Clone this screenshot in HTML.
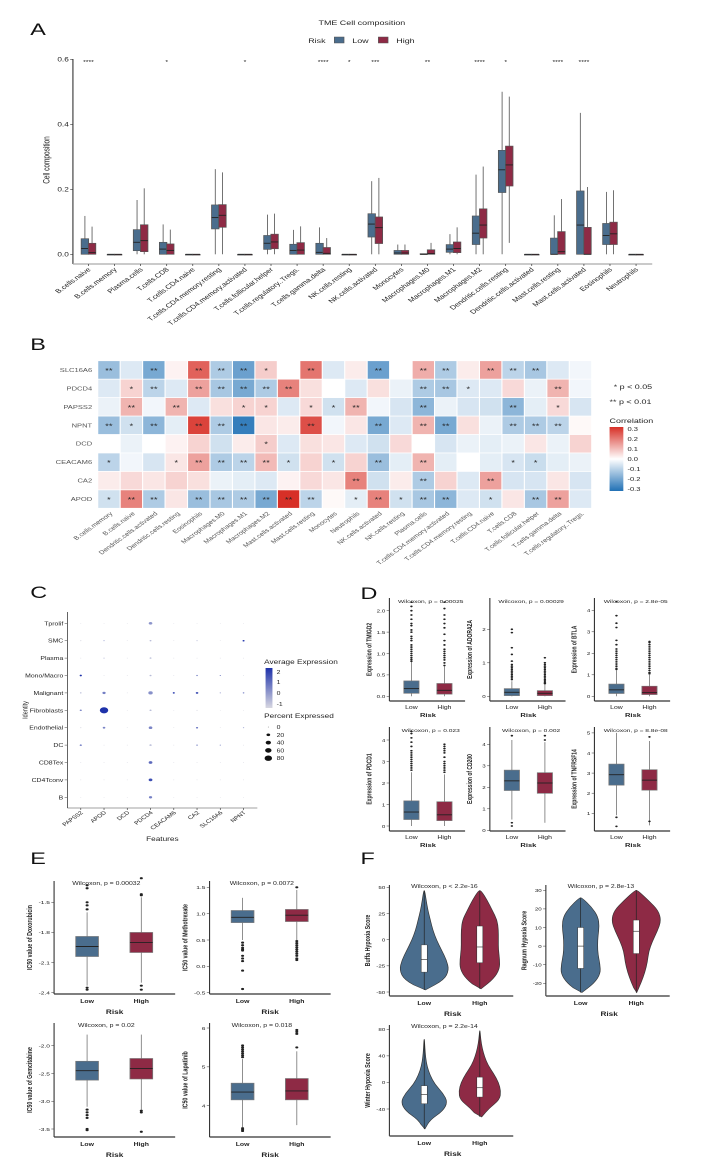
<!DOCTYPE html>
<html><head><meta charset="utf-8"><style>
html,body{margin:0;padding:0;background:#fff}
svg{display:block;font-family:"Liberation Sans",Arial,sans-serif}
</style></head><body>
<svg id="fig" width="709" height="1169" viewBox="0 0 709 1169"><g id="root" transform="scale(1.376,1)"></g></svg>
<script>
// ---------- Panel A data ----------
const aCats=["B.cells.naive","B.cells.memory","Plasma.cells","T.cells.CD8","T.cells.CD4.naive","T.cells.CD4.memory.resting","T.cells.CD4.memory.activated","T.cells.follicular.helper","T.cells.regulatory..Tregs.","T.cells.gamma.delta","NK.cells.resting","NK.cells.activated","Monocytes","Macrophages.M0","Macrophages.M1","Macrophages.M2","Dendritic.cells.resting","Dendritic.cells.activated","Mast.cells.resting","Mast.cells.activated","Eosinophils","Neutrophils"];
// [q1, median, q3, whiskerLow, whiskerHigh]
const aLow=[[0,0.018,0.048,0,0.118],[0,0,0,0,0],[0.011,0.037,0.076,0,0.167],[0,0.016,0.037,0,0.092],[0,0,0,0,0],[0.078,0.113,0.152,0,0.262],[0,0,0,0,0],[0.015,0.034,0.058,0,0.122],[0,0.012,0.031,0,0.075],[0,0.006,0.034,0,0.083],[0,0,0,0,0],[0.053,0.093,0.125,0,0.225],[0,0.004,0.012,0,0.03],[0,0,0.002,0,0.002],[0.006,0.016,0.03,0,0.062],[0.03,0.065,0.118,0,0.245],[0.19,0.26,0.32,0,0.5],[0,0,0,0,0],[0,0,0.05,0,0.12],[0,0.09,0.195,0,0.435],[0.03,0.058,0.095,0,0.192],[0,0,0,0,0]];
const aHigh=[[0,0.005,0.034,0,0.085],[0,0,0,0,0],[0.008,0.042,0.091,0,0.203],[0,0.012,0.032,0,0.076],[0,0,0,0,0],[0.083,0.12,0.153,0,0.252],[0,0,0,0,0],[0.017,0.038,0.062,0,0.125],[0,0.013,0.036,0,0.086],[0,0.003,0.021,0,0.05],[0,0,0,0,0],[0.033,0.082,0.115,0,0.235],[0,0.004,0.012,0,0.03],[0,0.002,0.014,0,0.035],[0.005,0.018,0.038,0,0.083],[0.05,0.09,0.14,0,0.27],[0.21,0.275,0.333,0.035,0.485],[0,0,0,0,0],[0,0.008,0.07,0,0.17],[0,0,0.083,0,0.207],[0.03,0.063,0.099,0,0.197],[0,0,0,0,0]];
const aStars=["****","","","*","","","*","","","****","*","***","","**","","****","*","","****","****","",""];
const aTicks=[0,0.2,0.4,0.6];

// ---------- Panel B data ----------
const hmGenes=["SLC16A6","PDCD4","PAPSS2","NPNT","DCD","CEACAM6","CA2","APOD"];
const hmCells=["B.cells.memory","B.cells.naive","Dendritic.cells.activated","Dendritic.cells.resting","Eosinophils","Macrophages.M0","Macrophages.M1","Macrophages.M2","Mast.cells.activated","Mast.cells.resting","Monocytes","Neutrophils","NK.cells.activated","NK.cells.resting","Plasma.cells","T.cells.CD4.memory.activated","T.cells.CD4.memory.resting","T.cells.CD4.naive","T.cells.CD8","T.cells.follicular.helper","T.cells.gamma.delta","T.cells.regulatory..Tregs."];
const hmSLC16A6=[-0.15,-0.05,-0.2,0.02,0.25,-0.12,-0.22,0.08,0,0.22,-0.05,0.03,-0.22,0,0.13,-0.12,0.03,0.15,-0.1,-0.13,-0.05,-0.02];
const hmPDCD4=[-0.05,0.07,-0.1,-0.05,0.15,-0.13,-0.2,-0.12,0.2,0.05,0,-0.05,0.05,-0.03,-0.12,-0.13,-0.05,-0.05,0.06,-0.03,0.12,-0.02];
const hmPAPSS2=[-0.03,0.12,-0.02,0.12,-0.05,0.05,0.07,0.07,-0.05,0.06,-0.07,0.12,-0.02,-0.06,-0.17,-0.03,-0.06,-0.07,-0.17,-0.04,0.06,-0.06];
const hmNPNT=[-0.15,-0.07,-0.17,-0.04,0.3,-0.12,-0.3,0.04,0.03,0.28,-0.02,0.04,-0.2,-0.05,0.12,-0.2,0.05,-0.03,-0.12,-0.12,-0.1,0.01];
const hmDCD=[0,-0.03,0,0.02,0.07,-0.07,0.03,0.08,-0.05,0.05,0.04,-0.05,-0.07,0.06,0,-0.06,-0.03,-0.04,-0.03,0.04,-0.03,0.07];
const hmCEACAM6=[-0.1,-0.02,-0.06,0.04,0.15,-0.12,-0.1,0.11,-0.07,0.07,-0.07,0.07,-0.15,-0.04,0.12,-0.04,0,-0.04,-0.06,-0.08,-0.04,-0.03];
const hmCA2=[0.03,0.06,0.04,0.07,0.05,-0.03,-0.04,-0.05,0.02,0.06,0.04,0.2,-0.07,0.03,-0.12,0.07,-0.05,0.15,-0.06,-0.06,0.04,-0.06];
const hmAPOD=[-0.07,0.2,-0.12,0.04,-0.15,-0.13,-0.12,-0.2,0.33,-0.1,0.01,-0.04,0.2,-0.07,-0.13,-0.17,-0.05,-0.07,0.04,-0.13,0.15,-0.05];
const hmSigSLC16A6=[2,0,2,0,2,2,2,1,0,2,0,0,2,0,2,2,0,2,2,2,0,0];
const hmSigPDCD4=[0,1,2,0,2,2,2,2,2,0,0,0,0,0,2,2,1,0,0,0,2,0];
const hmSigPAPSS2=[0,2,0,2,0,0,1,1,0,1,1,2,0,0,2,0,0,0,2,0,1,0];
const hmSigNPNT=[2,1,2,0,2,2,2,0,0,2,0,0,2,0,2,2,0,0,2,2,2,0];
const hmSigDCD=[0,0,0,0,0,0,0,1,0,0,0,0,0,0,0,0,0,0,0,0,0,0];
const hmSigCEACAM6=[1,0,0,1,2,2,2,2,1,0,1,0,2,0,2,0,0,0,1,1,0,0];
const hmSigCA2=[0,0,0,0,0,0,0,0,0,0,0,2,0,0,2,0,0,2,0,0,0,0];
const hmSigAPOD=[1,2,2,0,2,2,2,2,2,2,0,1,2,1,2,2,0,1,0,2,2,0];
const hmVals=[hmSLC16A6,hmPDCD4,hmPAPSS2,hmNPNT,hmDCD,hmCEACAM6,hmCA2,hmAPOD];
const hmSig=[hmSigSLC16A6,hmSigPDCD4,hmSigPAPSS2,hmSigNPNT,hmSigDCD,hmSigCEACAM6,hmSigCA2,hmSigAPOD];

// ---------- Panel C data ----------
const dcRows=["Tprolif","SMC","Plasma","Mono/Macro","Malignant","Fibroblasts","Endothelial","DC","CD8Tex","CD4Tconv","B"];
const dcFeat=["PAPSS2","APOD","DCD","PDCD4","CEACAM6","CA2","SLC16A6","NPNT"];
const dcPct=[[1,1,1,15,1,1,1,1],[2,2,1,4,1,2,1,5],[1,2,1,4,1,1,1,1],[6,1,1,5,1,3,2,1],[3,12,1,22,5,8,2,3],[5,80,1,5,1,2,1,1],[2,8,1,15,1,5,1,2],[5,1,1,6,1,3,2,1],[1,1,1,16,1,1,1,1],[1,1,1,16,1,1,1,1],[1,1,1,12,1,1,1,1]];
const dcExp=[[-1,-1,-1,0.2,-1,-1,-1,-1],[-1,0,-1,-0.5,-1,-0.5,-1,2],[-1,-0.5,-1,-0.5,-1,-1,-1,-1],[2,-1,-1,-0.5,-1,0.5,0.5,-1],[-0.5,0.6,-1,0.3,2,1.5,0,0.5],[0.5,2,-1,-0.5,-1,-1,-1,-1],[-1,0.5,-1,0.5,-1,1,-1,0],[0.8,-1,-1,-0.5,-1,0.3,0.3,-1],[-1,-1,-1,1,-1,-1,-1,-1],[-1,-1,-1,1.5,-1,-1,-1,-1],[-1,-1,-1,0.6,-1,-1,-1,-1]];

// ---------- Panel D data ----------
const dGenes=["TMIGD2","ADORA2A","BTLA","PDCD1","CD200","TNFRSF14"];
const dPvals=["0.00025","0.00029","2.8e-05","0.023","0.002","8.8e-08"];
const dTicks=[[0,0.5,1,1.5,2],[0,1,2],[0,1,2,3,4],[0,1,2,3,4],[0,1,2,3,4],[1,2,3,4,5]];
const dTickLbl=[["0.0","0.5","1.0","1.5","2.0"],["0","1","2"],["0","1","2","3","4"],["0","1","2","3","4"],["0","1","2","3","4"],["1","2","3","4","5"]];
const dLow=[[0.07,0.18,0.36,0,0.8],[0.02,0.12,0.23,0,0.45],[0.13,0.3,0.57,0,1.2],[0.3,0.65,1.17,0,2.5],[1.85,2.3,2.8,0.5,4.2],[2.4,2.92,3.45,0.9,5.0]];
const dHigh=[[0.05,0.14,0.3,0,0.7],[0.02,0.09,0.17,0,0.35],[0.08,0.17,0.47,0,1.0],[0.25,0.52,1.13,0,2.4],[1.72,2.2,2.68,0.35,4.1],[2.15,2.65,3.17,0.4,4.6]];
const dOutLow=[[0.82,0.86,0.9,0.95,1.0,1.05,1.1,1.15,1.2,1.3,1.35,1.4,1.5,1.55,1.65,1.7,1.8,1.9,2.0,2.1,2.2],[0.5,0.55,0.6,0.65,0.7,0.75,0.8,0.85,0.9,0.95,1.05,1.25,1.45,1.9,2.0],[1.25,1.3,1.4,1.5,1.6,1.7,1.8,1.9,2.0,2.1,2.2,2.4,2.6,3.2,3.4,3.75,4.4],[2.6,2.7,2.8,2.9,3.0,3.1,3.2,3.3,3.4,3.5,3.7,3.9,4.1,4.3,4.4],[0.2,0.35,4.4],[0.8,0.35]];
const dOutHigh=[[0.72,0.78,0.85,0.9,0.95,1.0,1.05,1.1,1.2,1.3,1.45,1.6,1.7,1.8,1.9,2.05,2.2],[0.38,0.42,0.46,0.5,0.55,0.6,0.65,0.7,0.75,0.8,0.85,0.9,0.95,1.0,1.15],[1.05,1.1,1.2,1.3,1.4,1.5,1.6,1.7,1.8,1.9,2.0,2.1,2.2,2.3,2.4,2.5,2.55],[2.5,2.6,2.7,2.8,2.9,3.0,3.2,3.4,3.5,3.6,3.7,3.8],[4.2,4.4],[4.8,0.6]];

// ---------- Panel E data ----------
const eDrugs=["Doxorubicin","Methotrexate","Gemcitabine","Lapatinib"];
const ePvals=["0.00032","0.0072","0.02","0.018"];
const eTicks=[[-2.4,-2.1,-1.8,-1.5],[-0.5,0,0.5,1,1.5],[-3.5,-3,-2.5,-2],[4,5,6]];
const eTickLbl=[["-2.4","-2.1","-1.8","-1.5"],["-0.5","0.0","0.5","1.0","1.5"],["-3.5","-3.0","-2.5","-2.0"],["4","5","6"]];
const eLow=[[-2.04,-1.94,-1.84,-2.33,-1.6],[0.83,0.93,1.06,0.5,1.3],[-2.62,-2.45,-2.28,-3.1,-1.8],[4.15,4.35,4.58,3.45,5.2]];
const eHigh=[[-2.0,-1.9,-1.8,-2.3,-1.45],[0.85,0.97,1.08,0.5,1.45],[-2.6,-2.41,-2.23,-3.15,-1.8],[4.15,4.38,4.7,3.5,5.4]];
const eOutLow=[[-2.35,-2.37,-1.57,-1.53,-1.5,-1.36,-1.33],[0.45,0.4,0.35,0.32,0.3,0.2,0.15,0.1,-0.08,-0.43],[-3.15,-3.2,-3.25,-3.3,-3.5,-3.52],[5.25,5.3,5.35,5.4,5.45,5.5,5.55,3.42,3.38,3.35]];
const eOutHigh=[[-2.33,-2.37,-1.43,-1.42,-1.26],[0.48,0.44,0.4,0.36,0.32,0.28,0.24,0.2,0.15,0.12,1.5],[-3.17,-3.2,-3.55],[5.5,5.85,5.9,5.95]];

// ---------- Panel F data ----------
const fNames=["Buffa Hypoxia Score","Ragnum Hypoxia Score","Winter Hypoxia Score"];
const fPvals=["< 2.2e-16","= 2.8e-13","= 2.2e-14"];
const fTicks=[[-50,-25,0,25,50],[-20,-10,0,10,20,30],[-40,0,40,80]];
const fRangeLow=[[-48,47],[-25,26],[-70,65]];
const fRangeHigh=[[-47,47],[-25,30],[-52,78]];
const fDensLow=[[0.05,0.8,1.0,0.9,0.7,0.5,0.35,0.25,0.15,0.08,0.02],[0.05,0.55,0.8,0.78,0.7,0.68,0.7,0.75,0.7,0.45,0.05],[0.03,0.25,0.8,1.0,0.8,0.45,0.25,0.12,0.06,0.03,0.01]];
const fDensHigh=[[0.05,0.55,0.8,0.8,0.75,0.75,0.75,0.7,0.5,0.3,0.05],[0.02,0.2,0.35,0.45,0.5,0.65,0.85,1.0,0.9,0.5,0.05],[0.08,0.4,0.85,0.9,0.8,0.6,0.35,0.2,0.1,0.04,0.01]];
const fBoxLow=[[-31,-19,-5],[-12,0,10],[-32,-18,-5]];
const fBoxHigh=[[-22,-7,13],[-4,8,14],[-22,-8,8]];

const NS="http://www.w3.org/2000/svg";
const svg=document.getElementById("root");
const LOWC="#4a6d8d", HIGHC="#8e2a45";
function mk(tag,attrs,name,parent){
  const el=document.createElementNS(NS,tag);
  for(const k in attrs) el.setAttribute(k,attrs[k]);
  
  
  (parent||svg).appendChild(el);
  return el;
}
function txt(x,y,s,size,anchor,name,rot,weight,fill){
  const t=mk("text",{x:x,y:y,"font-size":size,"text-anchor":anchor||"start",fill:fill||"#222","font-weight":weight||"normal"},name);
  if(rot) t.setAttribute("transform","rotate("+rot+" "+x+" "+y+")");
  t.textContent=s;return t;
}
function line(x1,y1,x2,y2,stroke,w,name){return mk("line",{x1:x1,y1:y1,x2:x2,y2:y2,stroke:stroke,"stroke-width":w},name);}

function drawBox(cx,bw,st,sc,fill,name,outs,stroke,r){
  line(cx,sc(st[3]),cx,sc(st[4]),stroke,0.6,name+"-whisker");
  const y1=sc(st[2]),y0=sc(st[0]);
  mk("rect",{x:cx-bw/2,y:y1,width:bw,height:Math.max(0.8,y0-y1),fill:fill,stroke:stroke,"stroke-width":0.6},name+"-box");
  line(cx-bw/2,sc(st[1]),cx+bw/2,sc(st[1]),"#222",0.9,name+"-median");
  (outs||[]).forEach(v=>{mk("circle",{cx:cx,cy:sc(v),r:r||0.9,fill:"#222"},name+"-outlier");});
}

// ===== Panel A =====
txt(22,35,"A",17,"start","panel-a-label",0,"normal","#111");
txt(263,25,"TME Cell composition",6.5,"middle","panel-a-title");
txt(224,43,"Risk",6.5,"start","legend-title");
mk("rect",{x:243,y:37,width:7,height:6,fill:LOWC,stroke:"#555","stroke-width":0.5},"legend-low-key");
txt(256,43,"Low",6.5,"start","legend-low-label");
mk("rect",{x:275,y:37,width:7,height:6,fill:HIGHC,stroke:"#555","stroke-width":0.5},"legend-high-key");
txt(288,43,"High",6.5,"start","legend-high-label");
(function(){
  const y0=254.3, k=325; const sc=v=>y0-v*k;
  const x0=64.3, dx=18.95; const xc=i=>x0+i*dx;
  line(53,59,53,264,"#333",0.8,"y-axis-line");
  line(53,264,474,264,"#aaa",1.2,"x-axis-line");
  aTicks.forEach(t=>{line(51,sc(t),53,sc(t),"#333",0.6,"y-tick");txt(50,sc(t)+2,t.toFixed(1),6,"end","y-tick-label");});
  txt(36,160,"Cell composition",6.5,"middle","y-axis-title",-90);
  aCats.forEach((c,i)=>{
    drawBox(xc(i)-2.6,5.4,aLow[i],sc,LOWC,"box-low-"+i,[],"#555");
    drawBox(xc(i)+2.6,5.4,aHigh[i],sc,HIGHC,"box-high-"+i,[],"#555");
    line(xc(i),264,xc(i),266,"#333",0.5,"x-tick");
    txt(xc(i)+2,270,c,6,"end","x-tick-label",-45);
    if(aStars[i]) txt(xc(i),64,aStars[i],5,"middle","sig-stars");
  });
})();

// ===== Panel B =====
txt(22,350,"B",17,"start","panel-b-label",0,"normal","#111");
function corrColor(v){
  v=Math.max(-0.33,Math.min(0.33,v))/0.33;
  const w=[255,255,255], r=[215,48,39], b=[33,113,181];
  const c=v>=0?r:b, a=Math.abs(v);
  return "rgb("+w.map((x,i)=>Math.round(x+(c[i]-x)*a)).join(",")+")";
}
(function(){
  const x0=71, cw=16.32, y0=360.7, ch=18.45;
  hmGenes.forEach((g,r)=>{
    txt(67,y0+r*ch+ch/2+2,g,5.5,"end","heatmap-row-label",0,"normal","#555");
    hmCells.forEach((c,j)=>{
      mk("rect",{x:x0+j*cw+0.4,y:y0+r*ch+0.4,width:cw-0.8,height:ch-0.8,fill:corrColor(hmVals[r][j])},"heatmap-cell");
      const s=hmSig[r][j];
      if(s) txt(x0+j*cw+cw/2,y0+r*ch+ch/2+3,s===2?"**":"*",7,"middle","heatmap-sig");
    });
  });
  hmCells.forEach((c,j)=>{txt(x0+j*cw+cw/2+3,514,c,5.5,"end","heatmap-col-label",-45,"normal","#555");});
  txt(446,389,"* p < 0.05",6.5,"start","sig-legend-1");
  txt(443,404,"** p < 0.01",6.5,"start","sig-legend-2");
  txt(443,423,"Correlation",6.5,"start","colorbar-title");
  const grad=mk("defs",{},"defs");
  const lg=mk("linearGradient",{id:"cg",x1:0,y1:0,x2:0,y2:1},"colorbar-gradient",grad);
  [0.33,0,-0.33].forEach((v,i)=>mk("stop",{offset:(i*50)+"%","stop-color":corrColor(v)},"gradient-stop",lg));
  mk("rect",{x:443,y:427,width:10,height:64,fill:"url(#cg)"},"colorbar");
  [0.3,0.2,0.1,0,-0.1,-0.2,-0.3].forEach(v=>{txt(456,459-v*100+2,v.toFixed(1),5.5,"start","colorbar-label");});
})();

// ===== Panel C =====
txt(22,598,"C",17,"start","panel-c-label",0,"normal","#111");
function expColor(v){
  const a=(Math.max(-1,Math.min(2,v))+1)/3;
  const lo=[215,215,225], hi=[30,50,170];
  return "rgb("+lo.map((x,i)=>Math.round(x+(hi[i]-x)*a)).join(",")+")";
}
(function(){
  const x0=58.7, dx=16.9, y0=623.3, dy=17.4;
  line(49,612,49,808,"#444",0.6,"dot-y-axis");
  line(49,808,187,808,"#444",0.6,"dot-x-axis");
  dcRows.forEach((r,i)=>{txt(46,y0+i*dy+2,r,5,"end","dot-row-label");line(47,y0+i*dy,49,y0+i*dy,"#444",0.5,"dot-y-tick");});
  dcFeat.forEach((f,j)=>{txt(x0+j*dx+2,813,f,5,"end","dot-col-label",-45);line(x0+j*dx,808,x0+j*dx,810,"#444",0.5,"dot-x-tick");});
  dcRows.forEach((r,i)=>dcFeat.forEach((f,j)=>{
    mk("circle",{cx:x0+j*dx,cy:y0+i*dy,r:Math.sqrt(dcPct[i][j])*0.34,fill:expColor(dcExp[i][j])},"dot");
  }));
  txt(20,710,"Identity",5.5,"middle","dot-y-title",-90);
  txt(118,841,"Features",6,"middle","dot-x-title");
  txt(192,664,"Average Expression",6,"start","avg-expr-legend-title");
  const d=mk("defs",{},"defs");
  const lg=mk("linearGradient",{id:"eg",x1:0,y1:0,x2:0,y2:1},"expr-gradient",d);
  mk("stop",{offset:"0%","stop-color":expColor(2.3)},"gradient-stop",lg);
  mk("stop",{offset:"100%","stop-color":expColor(-1.2)},"gradient-stop",lg);
  mk("rect",{x:193,y:668,width:5,height:40,fill:"url(#eg)"},"expr-colorbar");
  [["2",674],["1",684],["0",695],["-1",706]].forEach(a=>txt(201,a[1],a[0],5,"start","expr-colorbar-label"));
  txt(192,718,"Percent Expressed",6,"start","pct-legend-title");
  [0,20,40,60,80].forEach((p,i)=>{mk("circle",{cx:195,cy:727+i*7.8,r:Math.max(0.3,Math.sqrt(p)*0.3),fill:"#111"},"pct-legend-dot");txt(201,729+i*7.8,String(p),5,"start","pct-legend-label");});
})();

// ===== Panel D =====
txt(262,599,"D",17,"start","panel-d-label",0,"normal","#111");
(function(){
  const lefts=[283,356,432,283,356,432];
  const boxes=[[598,701],[598,701],[598,701],[727,831],[727,831],[727,831]];
  const zero=[696.3,696.3,696.3,826,830.3,833.4], unit=[42.8,33.5,21.5,21.5,21.5,20.1];
  dGenes.forEach((g,i)=>{
    const L=lefts[i], T=boxes[i][0], B=boxes[i][1];
    const sc=v=>zero[i]-v*unit[i];
    line(L,T,L,B,"#333",0.8,"d-y-axis");
    line(L,B,L+55,B,"#333",1.3,"d-x-axis");
    dTicks[i].forEach((t,k)=>{line(L-2,sc(t),L,sc(t),"#333",0.5,"d-y-tick");txt(L-3,sc(t)+1.8,dTickLbl[i][k],4.5,"end","d-y-tick-label");});
    drawBox(L+16,11,dLow[i],sc,LOWC,"d-box-low-"+g,dOutLow[i],"#777",0.9);
    drawBox(L+40,11,dHigh[i],sc,HIGHC,"d-box-high-"+g,dOutHigh[i],"#777",0.9);
    txt(L+30,T+5,"Wilcoxon, p = "+dPvals[i],4.8,"middle","d-pvalue");
    txt(L+16,B+8,"Low",5,"middle","d-x-label");
    txt(L+40,B+8,"High",5,"middle","d-x-label");
    txt(L+28,B+16,"Risk",5.5,"middle","d-x-title",0,"bold");
    txt(L-13,(T+B)/2,"Expression of "+g,5,"middle","d-y-title",-90,"bold");
  });
})();

// ===== Panel E =====
txt(22,864,"E",17,"start","panel-e-label",0,"normal","#111");
(function(){
  const lefts=[39.3,152.3,39.3,152.3], tops=[881,881,1023,1023], bots=[994,994,1137,1137];
  const ref=[[-1.5,902.3,-2.4,992.7],[1.5,887.3,-0.5,992.7],[-2,1045.7,-3.5,1129],[6,1028,4,1105.7]];
  eDrugs.forEach((d,i)=>{
    const L=lefts[i],T=tops[i],B=bots[i],R=ref[i];
    const sc=v=>R[1]+(v-R[0])*(R[3]-R[1])/(R[2]-R[0]);
    line(L,T,L,B,"#333",0.8,"e-y-axis");
    line(L,B,L+88,B,"#333",1.3,"e-x-axis");
    eTicks[i].forEach((t,k)=>{line(L-2,sc(t),L,sc(t),"#333",0.5,"e-y-tick");txt(L-3,sc(t)+1.8,eTickLbl[i][k],4.8,"end","e-y-tick-label");});
    drawBox(L+24,16.5,eLow[i],sc,LOWC,"e-box-low-"+d,eOutLow[i],"#777",1.1);
    drawBox(L+63.4,16.5,eHigh[i],sc,HIGHC,"e-box-high-"+d,eOutHigh[i],"#777",1.1);
    txt(L+38,T+4,"Wilcoxon, p = "+ePvals[i],5,"middle","e-pvalue");
    txt(L+24,B+9,"Low",5,"middle","e-x-label",0,"bold");
    txt(L+63.4,B+9,"High",5,"middle","e-x-label",0,"bold");
    txt(L+44,B+20,"Risk",6,"middle","e-x-title",0,"bold");
    txt(L-16,(T+B)/2,"IC50 value of "+d,5.3,"middle","e-y-title",-90,"bold");
  });
})();

// ===== Panel F =====
txt(262,864,"F",17,"start","panel-f-label",0,"normal","#111");
(function(){
  const lefts=[283,396.7,283], tops=[885,885,1025], bots=[996,996,1136];
  const ref=[[50,887.3,-50,992],[30,890.3,-20,983.3],[80,1029.3,-40,1109]];
  const maxW=[18,18,17];
  function violin(cx,rng,dens,box,sc,fill,name,mw){
    const n=dens.length, pts=[];
    for(let k=0;k<n;k++){const v=rng[0]+(rng[1]-rng[0])*k/(n-1);pts.push([cx+dens[k]*mw,sc(v)]);}
    for(let k=n-1;k>=0;k--){const v=rng[0]+(rng[1]-rng[0])*k/(n-1);pts.push([cx-dens[k]*mw,sc(v)]);}
    let d="M"+pts[0][0]+","+pts[0][1];
    for(let k=1;k<pts.length;k++){const p=pts[k-1],q=pts[k];d+=" Q"+p[0]+","+p[1]+" "+((p[0]+q[0])/2)+","+((p[1]+q[1])/2);}
    d+=" Z";
    mk("path",{d:d,fill:fill,stroke:"#333","stroke-width":0.5},name+"-violin");
    line(cx,sc(rng[0]),cx,sc(rng[1]),"#222",0.5,name+"-range");
    mk("rect",{x:cx-2.2,y:sc(box[2]),width:4.4,height:sc(box[0])-sc(box[2]),fill:"#fff",stroke:"#333","stroke-width":0.4},name+"-box");
    line(cx-2.2,sc(box[1]),cx+2.2,sc(box[1]),"#222",0.6,name+"-median");
  }
  fNames.forEach((f,i)=>{
    const L=lefts[i],T=tops[i],B=bots[i],R=ref[i];
    const sc=v=>R[1]+(v-R[0])*(R[3]-R[1])/(R[2]-R[0]);
    line(L,T,L,B,"#333",0.8,"f-y-axis");
    line(L,B,L+90,B,"#555",1.4,"f-x-axis");
    fTicks[i].forEach(t=>{line(L-2,sc(t),L,sc(t),"#333",0.5,"f-y-tick");txt(L-3,sc(t)+1.8,String(t),4.5,"end","f-y-tick-label");});
    violin(L+25.3,fRangeLow[i],fDensLow[i],fBoxLow[i],sc,LOWC,"f-low-"+i,maxW[i]);
    violin(L+65.7,fRangeHigh[i],fDensHigh[i],fBoxHigh[i],sc,HIGHC,"f-high-"+i,maxW[i]);
    txt(L+40,T+3,"Wilcoxon, p "+fPvals[i],5,"middle","f-pvalue");
    txt(L+25.3,B+9,"Low",5,"middle","f-x-label",0,"bold");
    txt(L+65.7,B+9,"High",5,"middle","f-x-label",0,"bold");
    txt(L+46,B+20,"Risk",6,"middle","f-x-title",0,"bold");
    txt(L-14,(T+B)/2,f,5.3,"middle","f-y-title",-90,"bold");
  });
})();
</script>
</body></html>
